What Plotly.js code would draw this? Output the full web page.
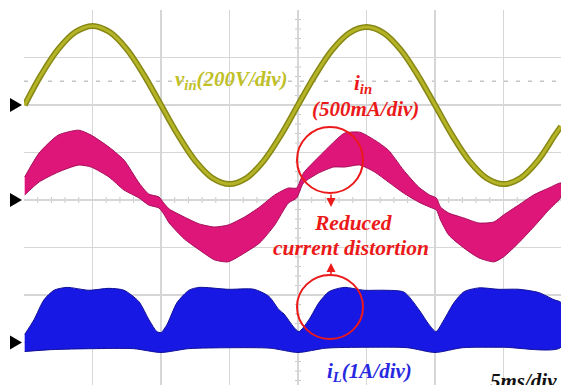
<!DOCTYPE html>
<html>
<head>
<meta charset="utf-8">
<script src="https://cdn.plot.ly/plotly-3.0.1.min.js"></script>
<style>html,body{margin:0;padding:0;background:#fff;}#chart{width:561px;height:385px;}</style>
</head>
<body>
<div id="chart"></div>
<script>
// ---- data (time in ms) ----
const vinT = [0.05, 1.25, 2.5, 3.75, 5, 6.25, 7.5, 8.75, 10, 11.25, 12.5, 13.75, 15, 16.25, 17.5, 18.75, 20, 21.25, 22.5, 23.75, 25, 26.25, 27.5, 28.75, 30, 31.25, 32.5, 33.75, 35, 36.25, 37.5, 38.75, 39.2];
const vinV = [0, 127, 235, 307, 333, 307, 235, 127, 0, -127, -235, -307, -333, -307, -235, -127, 0, 125, 232, 303, 328, 303, 232, 125, 0, -127, -235, -307, -333, -307, -235, -127, -90];

const iinT = [0.05, 1.1, 2.5, 4.0, 4.9, 6.2, 7.3, 8.4, 9.1, 9.85, 10.2, 10.6, 11.7, 12.8, 13.9, 14.9, 16.1, 17.2, 18.3, 19.3, 19.9, 20.4, 21.5, 22.6, 23.4, 24.5, 25.6, 26.6, 27.7, 28.8, 29.6, 30.1, 30.4, 31.0, 32.1, 33.2, 34.3, 35.0, 36.1, 37.2, 38.3, 39.2];
const iinHi = [242, 494, 683, 735, 683, 557, 420, 179, 63, 32, -32, -95, -179, -252, -284, -263, -179, -74, 53, 126, 126, 284, 452, 609, 704, 714, 630, 525, 315, 137, 53, 21, -74, -137, -189, -242, -231, -158, -53, 53, 126, 179];
const iinLo = [53, 189, 294, 368, 347, 242, 105, 21, -53, -84, -147, -242, -410, -525, -630, -651, -557, -452, -263, -32, 21, 179, 284, 347, 347, 368, 294, 189, 74, -21, -74, -105, -210, -368, -504, -609, -651, -599, -452, -284, -105, 32];

const iLT = [0.05, 0.73, 1.46, 2.19, 3.14, 4.74, 6.2, 7.3, 8.39, 9.12, 9.7, 10.0, 10.44, 11.17, 12.04, 12.77, 14.89, 16.79, 17.88, 18.61, 18.98, 19.7, 20.07, 20.8, 21.53, 22.26, 23.36, 24.82, 26.28, 27.74, 28.83, 29.56, 30.07, 30.66, 31.39, 32.12, 33.21, 34.67, 36.13, 37.59, 38.69, 39.2];
const iLHi = [0.17, 0.48, 0.9, 1.1, 1.16, 1.1, 1.14, 1.1, 0.86, 0.48, 0.23, 0.21, 0.38, 0.84, 1.1, 1.16, 1.12, 1.12, 0.97, 0.69, 0.6, 0.32, 0.23, 0.48, 0.84, 1.07, 1.16, 1.1, 1.1, 1.06, 0.69, 0.38, 0.23, 0.48, 0.84, 1.07, 1.15, 1.12, 1.12, 1.05, 0.9, 0.84];
const iLLoT = [0.05, 2, 5, 8, 10, 12, 15, 18, 20, 22, 25, 28, 30, 32, 35, 39.2];
const iLLo = [-0.19, -0.15, -0.13, -0.13, -0.21, -0.13, -0.11, -0.12, -0.21, -0.12, -0.1, -0.11, -0.21, -0.11, -0.1, -0.1];

// channel settings: units per division and ground offset in divisions
const vinScale = 200, vinOffset = 2;
const iinScale = 500, iinOffset = 0;
const iLScale = 1, iLOffset = -3;

// ---- layout constants ----
const W = 561, H = 385, ML = 24, MT = 10;
const pxPerMs = 13.7, pxPerDiv = 47.5;
const xMax = (W - ML) / pxPerMs;
const yMax = (200 - MT) / pxPerDiv, yMin = (200 - H) / pxPerDiv;
const X = px => (px - ML) / pxPerMs;
const Y = py => (200 - py) / pxPerDiv;

const toDiv = (arr, s, o) => arr.map(v => v / s + o);
const band = (t1, hi, t2, lo) => ({x: t1.concat(t2.slice().reverse()), y: hi.concat(lo.slice().reverse())});

const iinBand = band(iinT, toDiv(iinHi, iinScale, iinOffset), iinT, toDiv(iinLo, iinScale, iinOffset));
const iLBand = band(iLT, toDiv(iLHi, iLScale, iLOffset), iLLoT, toDiv(iLLo, iLScale, iLOffset));

const traces = [
  {x: iinBand.x, y: iinBand.y, type: 'scatter', mode: 'lines', fill: 'toself',
   fillcolor: 'rgb(222,22,122)', line: {color: 'rgb(165,12,88)', width: 1, shape: 'spline', smoothing: 0.6}, hoverinfo: 'skip'},
  {x: iLBand.x, y: iLBand.y, type: 'scatter', mode: 'lines', fill: 'toself',
   fillcolor: 'rgb(24,24,228)', line: {color: 'rgb(16,16,150)', width: 1, shape: 'spline', smoothing: 0.7}, hoverinfo: 'skip'},
  {x: vinT, y: toDiv(vinV, vinScale, vinOffset), type: 'scatter', mode: 'lines',
   line: {color: 'rgb(135,135,22)', width: 6, shape: 'spline', smoothing: 1}, hoverinfo: 'skip'},
  {x: vinT, y: toDiv(vinV, vinScale, vinOffset), type: 'scatter', mode: 'lines',
   line: {color: 'rgb(180,180,38)', width: 3, shape: 'spline', smoothing: 1}, hoverinfo: 'skip'}
];

const shapes = [];
// dotted reference line
shapes.push({type: 'line', xref: 'paper', x0: 0, x1: 1, yref: 'y', y0: 2.5, y1: 2.5,
  line: {color: '#c4c4c4', width: 1.5, dash: '4px,8px'}, layer: 'below'});
// center axis minor ticks
for (let t = 1; t < xMax; t += 1) {
  shapes.push({type: 'line', xref: 'x', x0: t, x1: t, yref: 'y', ysizemode: 'pixel', yanchor: 0, y0: -3, y1: 3,
    line: {color: '#c8c8c8', width: 1}, layer: 'below'});
}
for (let d = -3.8; d < yMax; d += 0.2) {
  shapes.push({type: 'line', xref: 'x', xsizemode: 'pixel', xanchor: 20, x0: -3, x1: 3, yref: 'y', y0: d, y1: d,
    line: {color: '#c8c8c8', width: 1}, layer: 'below'});
}
// ground markers
[vinOffset, iinOffset, iLOffset].forEach(o => {
  shapes.push({type: 'path', xref: 'paper', xsizemode: 'pixel', xanchor: 0,
    yref: 'paper', ysizemode: 'pixel', yanchor: (o - yMin) / (yMax - yMin),
    path: 'M-14,7 L-2,0 L-14,-7 Z', fillcolor: '#000', line: {width: 0}});
});
// red circles
const red = 'rgb(235,25,25)';
shapes.push({type: 'circle', xref: 'x', yref: 'y', x0: X(297), x1: X(363), y0: Y(193), y1: Y(127),
  line: {color: red, width: 2}});
shapes.push({type: 'circle', xref: 'x', yref: 'y', x0: X(297), x1: X(363), y0: Y(339), y1: Y(275),
  line: {color: red, width: 2}});

const serif = 'Liberation Serif, Times New Roman, serif';
const annotations = [
  {x: X(231), y: Y(80), text: '<b><i>v<sub>in</sub>(200V/div)</i></b>', font: {family: serif, size: 21, color: 'rgb(192,192,40)'}},
  {x: X(363), y: Y(84), text: '<b><i>i<sub>in</sub></i></b>', font: {family: serif, size: 21, color: red}},
  {x: X(365), y: Y(109), text: '<b><i>(500mA/div)</i></b>', font: {family: serif, size: 21, color: red}},
  {x: X(353), y: Y(223), text: '<b><i>Reduced</i></b>', font: {family: serif, size: 21.5, color: red}},
  {x: X(351), y: Y(248), text: '<b><i>current distortion</i></b>', font: {family: serif, size: 21.5, color: red}},
  {x: X(369), y: Y(372), text: '<b><i>i<sub>L</sub>(1A/div)</i></b>', font: {family: serif, size: 21, color: 'rgb(40,40,225)'}},
  {x: X(523), y: Y(381), text: '<b><i>5ms/div</i></b>', font: {family: serif, size: 21, color: '#111'}},
  {x: X(331), y: Y(207), text: '', showarrow: true, ax: 0, ay: -14, arrowhead: 2, arrowsize: 1.2, arrowwidth: 1.5, arrowcolor: red},
  {x: X(331), y: Y(263), text: '', showarrow: true, ax: 0, ay: 13, arrowhead: 2, arrowsize: 1.2, arrowwidth: 1.5, arrowcolor: red}
].map(a => Object.assign({xref: 'x', yref: 'y', showarrow: false}, a));

const layout = {
  width: W, height: H,
  margin: {l: ML, r: 0, t: MT, b: 0, pad: 0},
  paper_bgcolor: '#fff', plot_bgcolor: '#fff',
  showlegend: false,
  xaxis: {range: [0, xMax], tickvals: [5, 10, 15, 20, 25, 30, 35], showticklabels: false, ticks: '',
    showgrid: true, gridcolor: '#d6d6d6', gridwidth: 1.5, zeroline: false, showline: false, fixedrange: true},
  yaxis: {range: [yMin, yMax], tickvals: [-3, -2, -1, 0, 1, 2, 3], showticklabels: false, ticks: '',
    showgrid: true, gridcolor: '#d6d6d6', gridwidth: 1.5, zeroline: false, showline: false, fixedrange: true},
  shapes: shapes,
  annotations: annotations
};

Plotly.newPlot('chart', traces, layout, {displayModeBar: false, staticPlot: true});
</script>
</body>
</html>
